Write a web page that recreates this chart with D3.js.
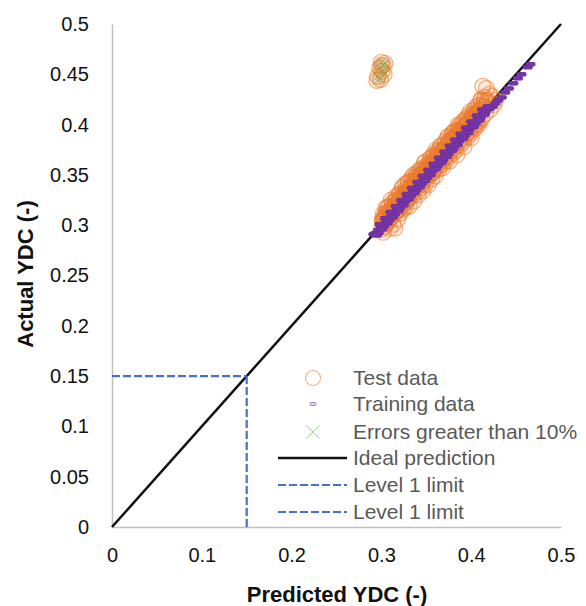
<html>
<head>
  <script src="https://d3js.org/d3.v7.min.js"></script>
  <title>YDC prediction</title>
</head>
<body style="margin:0;background:#fff">
  <div id="chart"></div>
  <script>
    // values
    var testPred = [0.300,0.301,0.302,0.303,0.304,0.305,0.306,0.307,0.308,0.309,0.310,0.311,0.312,0.313,0.313,0.314,0.315,0.316,0.317,0.318,
      0.318,0.319,0.320,0.321,0.322,0.323,0.323,0.324,0.325,0.326,0.327,0.327,0.328,0.329,0.330,0.331,0.331,0.332,0.333,0.334,
      0.335,0.336,0.336,0.337,0.338,0.339,0.340,0.340,0.341,0.342,0.343,0.344,0.344,0.345,0.346,0.347,0.348,0.348,0.349,0.350,
      0.351,0.352,0.352,0.353,0.354,0.355,0.356,0.356,0.357,0.358,0.359,0.360,0.360,0.361,0.362,0.363,0.364,0.364,0.365,0.366,
      0.367,0.368,0.368,0.369,0.370,0.371,0.372,0.372,0.373,0.374,0.375,0.376,0.376,0.377,0.378,0.379,0.380,0.380,0.381,0.382,
      0.383,0.384,0.384,0.385,0.386,0.387,0.388,0.388,0.389,0.390,0.391,0.392,0.392,0.393,0.394,0.395,0.396,0.396,0.397,0.398,
      0.399,0.400,0.400,0.401,0.402,0.403,0.404,0.405,0.406,0.407,0.408,0.409,0.410,0.411,0.412,0.413,0.414,0.415,0.416,0.417,
      0.418,0.420,0.421,0.423,0.425,0.427,
      0.302,0.305,0.308,0.311,0.314,0.317,0.320,0.323,0.326,0.329,0.332,0.335,0.338,0.341,0.344,0.347,0.350,0.353,0.356,0.359,
      0.362,0.365,0.368,0.371,0.374,0.377,0.380,0.383,0.386,0.389,0.392,0.395,0.398,0.401,0.404,0.407,0.410,
      0.303,0.309,0.315,0.321,0.327,0.333,0.339,0.345,0.351,0.357,0.363,0.369,0.375,0.381,0.387,0.393,0.399,0.405,
      0.301,0.302,0.303,0.305,0.306,0.307,0.308,0.310,0.311,0.312,0.313,0.315,0.316,0.317,0.318,0.320,0.321,0.322,0.324,0.325,
      0.326,0.327,0.329,0.330,0.331,0.332,0.334,0.335,0.336,0.337,0.339,0.340,0.341,0.342,0.344,0.345,0.346,0.347,0.349,0.350,
      0.351,0.352,0.354,0.355,0.356,0.357,0.359,0.360,0.361,0.362,0.364,0.365,0.366,0.367,0.369,0.370,0.371,0.372,0.374,0.375,
      0.376,0.377,0.379,0.380,0.381,0.382,0.384,0.385,0.386,0.387,0.389,0.390,0.391,0.392,0.394,0.395,0.396,0.397,0.399,0.400,
      0.401,0.402,0.404,0.405,0.406,0.407,0.409,0.410,0.411,0.412,0.414,0.415,0.416,0.418,
      0.300,0.302,0.304,0.298,0.301,0.296,0.299,0.303,0.295,0.300];
    var testActual = [0.296,0.303,0.293,0.308,0.299,0.312,0.302,0.318,0.305,0.297,0.313,0.308,0.322,0.301,0.316,0.311,0.297,0.325,0.314,0.306,
      0.321,0.317,0.331,0.312,0.326,0.319,0.337,0.316,0.330,0.322,0.341,0.318,0.333,0.325,0.343,0.327,0.319,0.337,0.331,0.347,
      0.329,0.340,0.324,0.345,0.336,0.351,0.333,0.344,0.330,0.349,0.340,0.356,0.337,0.348,0.334,0.353,0.344,0.362,0.341,0.355,
      0.348,0.360,0.340,0.357,0.350,0.366,0.346,0.361,0.352,0.370,0.355,0.364,0.349,0.368,0.358,0.374,0.356,0.369,0.361,0.379,
      0.360,0.373,0.357,0.376,0.366,0.383,0.364,0.378,0.369,0.387,0.368,0.381,0.364,0.384,0.374,0.391,0.372,0.386,0.377,0.394,
      0.375,0.389,0.370,0.392,0.382,0.399,0.380,0.394,0.385,0.402,0.383,0.397,0.378,0.399,0.390,0.407,0.388,0.401,0.393,0.410,
      0.391,0.405,0.387,0.408,0.397,0.414,0.396,0.411,0.401,0.419,0.400,0.414,0.404,0.424,0.407,0.438,0.418,0.427,0.411,0.436,
      0.422,0.430,0.415,0.428,0.420,0.424,
      0.306,0.308,0.313,0.315,0.319,0.320,0.325,0.327,0.332,0.333,0.338,0.339,0.344,0.345,0.350,0.351,0.356,0.358,0.362,0.363,
      0.368,0.370,0.374,0.375,0.380,0.381,0.385,0.388,0.392,0.393,0.398,0.399,0.403,0.406,0.409,0.411,0.415,
      0.301,0.307,0.313,0.320,0.325,0.332,0.337,0.344,0.350,0.355,0.362,0.367,0.374,0.380,0.385,0.392,0.397,0.404,
      0.305,0.311,0.304,0.317,0.312,0.303,0.318,0.313,0.325,0.319,0.317,0.324,0.317,0.329,0.324,0.316,0.331,0.325,0.338,0.332,
      0.330,0.336,0.330,0.342,0.337,0.328,0.344,0.338,0.350,0.344,0.343,0.349,0.342,0.354,0.350,0.341,0.356,0.350,0.363,0.357,
      0.355,0.361,0.355,0.367,0.362,0.353,0.369,0.363,0.375,0.369,0.368,0.374,0.367,0.379,0.375,0.366,0.381,0.375,0.388,0.382,
      0.380,0.386,0.380,0.392,0.387,0.378,0.394,0.388,0.400,0.394,0.393,0.399,0.392,0.404,0.400,0.391,0.406,0.400,0.413,0.407,
      0.405,0.411,0.405,0.417,0.412,0.403,0.419,0.413,0.425,0.419,0.418,0.424,0.417,0.424,
      0.462,0.459,0.461,0.456,0.453,0.448,0.445,0.450,0.444,0.458];

    var trainPred = [0.291,0.293,0.294,0.296,0.297,0.299,0.300,0.302,0.303,0.305,0.306,0.308,0.309,0.311,0.312,0.314,0.315,0.317,0.318,0.320,
      0.321,0.323,0.324,0.326,0.327,0.329,0.330,0.332,0.333,0.335,0.336,0.338,0.339,0.341,0.342,0.344,0.345,0.347,0.348,0.350,
      0.351,0.353,0.354,0.356,0.357,0.359,0.360,0.362,0.363,0.365,0.366,0.368,0.369,0.371,0.372,0.374,0.375,0.377,0.378,0.380,
      0.381,0.383,0.384,0.386,0.387,0.389,0.390,0.392,0.393,0.395,0.396,0.398,0.399,0.401,0.402,0.404,0.405,0.407,0.408,0.410,
      0.411,0.413,0.415,0.417,0.419,0.421,0.424,0.427,0.430,0.434,0.438,0.442,0.447,0.452,0.456,0.463,0.466,
      0.295,0.298,0.301,0.304,0.307,0.310,0.313,0.316,0.319,0.322,0.325,0.328,0.331,0.334,0.337,0.340,0.343,0.346,0.349,0.352,
      0.355,0.358,0.361,0.364,0.367,0.370,0.373,0.376,0.379,0.382,0.385,0.388,0.391,0.394,0.397,0.400,0.403,0.406,0.409,0.412,
      0.415,0.418,0.421];
    var trainActual = [0.291,0.292,0.290,0.295,0.292,0.298,0.296,0.300,0.299,0.303,0.302,0.307,0.305,0.309,0.308,0.313,0.311,0.315,0.315,0.318,
      0.317,0.322,0.320,0.324,0.324,0.328,0.326,0.330,0.329,0.333,0.333,0.337,0.335,0.339,0.338,0.343,0.341,0.345,0.344,0.349,
      0.347,0.351,0.350,0.354,0.354,0.358,0.356,0.360,0.359,0.364,0.362,0.366,0.365,0.369,0.369,0.373,0.371,0.375,0.374,0.379,
      0.377,0.381,0.380,0.384,0.384,0.388,0.386,0.390,0.389,0.394,0.392,0.396,0.396,0.399,0.398,0.403,0.401,0.405,0.405,0.408,
      0.407,0.411,0.411,0.414,0.416,0.418,0.418,0.421,0.424,0.427,0.432,0.436,0.441,0.446,0.450,0.457,0.460,
      0.290,0.301,0.296,0.307,0.302,0.313,0.308,0.319,0.314,0.325,0.320,0.331,0.326,0.337,0.332,0.343,0.338,0.349,0.344,0.355,
      0.350,0.361,0.356,0.367,0.362,0.373,0.368,0.379,0.374,0.385,0.380,0.391,0.386,0.397,0.392,0.403,0.398,0.409,0.404,0.415,
      0.410,0.418,0.416];

    var errPred = [0.300,0.302,0.304,0.298,0.301,0.296,0.299,0.303,0.295,0.300];
    var errActual = [0.462,0.459,0.461,0.456,0.453,0.448,0.445,0.450,0.444,0.458];

    var idealLine = [[0, 0], [0.5, 0.5]];
    var levelLimit = 0.15;

    var xTicks = [0, 0.1, 0.2, 0.3, 0.4, 0.5];
    var xTickLabels = ["0", "0.1", "0.2", "0.3", "0.4", "0.5"];
    var yTicks = [0, 0.05, 0.1, 0.15, 0.2, 0.25, 0.3, 0.35, 0.4, 0.45, 0.5];
    var yTickLabels = ["0", "0.05", "0.1", "0.15", "0.2", "0.25", "0.3", "0.35", "0.4", "0.45", "0.5"];

    var legendNames = ["Test data", "Training data", "Errors greater than 10%", "Ideal prediction", "Level 1 limit", "Level 1 limit"];

    var width = 586, height = 606;
    var fontFam = "'Liberation Sans', Arial, sans-serif";

    var svg = d3.select("#chart").append("svg")
      .attr("width", width)
      .attr("height", height)
      .style("display", "block");

    var x = d3.scaleLinear().domain([0, 0.5]).range([112, 561]);
    var y = d3.scaleLinear().domain([0, 0.5]).range([527, 24]);

    // axes
    svg.append("g")
      .attr("transform", "translate(0," + y(0) + ")")
      .call(d3.axisBottom(x).tickValues(xTicks).tickSize(0).tickPadding(21)
        .tickFormat(function(d, i){ return xTickLabels[i]; }));
    svg.append("g")
      .attr("transform", "translate(" + x(0) + ",0)")
      .call(d3.axisLeft(y).tickValues(yTicks).tickSize(0).tickPadding(23)
        .tickFormat(function(d, i){ return yTickLabels[i]; }));
    svg.selectAll(".domain")
      .attr("stroke", "#bfbfbf")
      .attr("stroke-width", 1.5);
    svg.selectAll(".tick text")
      .style("font-family", fontFam)
      .style("font-size", "20px")
      .attr("fill", "#111");

    // ideal prediction line
    var line = d3.line()
      .x(function(d){ return x(d[0]); })
      .y(function(d){ return y(d[1]); });
    svg.append("path")
      .datum(idealLine)
      .attr("d", line)
      .attr("fill", "none")
      .attr("stroke", "#111")
      .attr("stroke-width", 2.5);

    // level 1 limit
    svg.append("path")
      .datum([[0, levelLimit], [levelLimit, levelLimit]])
      .attr("d", line)
      .attr("fill", "none")
      .attr("stroke", "#4472c4")
      .attr("stroke-width", 2.2)
      .attr("stroke-dasharray", "8,3");
    svg.append("path")
      .datum([[levelLimit, levelLimit], [levelLimit, 0]])
      .attr("d", line)
      .attr("fill", "none")
      .attr("stroke", "#4472c4")
      .attr("stroke-width", 2.2)
      .attr("stroke-dasharray", "8,3");

    // test data (faint fill so the dense core builds up like the original)
    svg.append("g").selectAll("circle")
      .data(testPred)
      .enter()
      .append("circle")
      .attr("cx", function(d){ return x(d); })
      .attr("cy", function(d, i){ return y(testActual[i]); })
      .attr("r", 8)
      .attr("fill", "#ed7d31")
      .attr("fill-opacity", 0.09)
      .attr("stroke", "#ed7d31")
      .attr("stroke-opacity", 0.6)
      .attr("stroke-width", 1.2);

    // training data
    svg.append("g").selectAll("rect")
      .data(trainPred)
      .enter()
      .append("rect")
      .attr("x", function(d){ return x(d) - 4.5; })
      .attr("y", function(d, i){ return y(trainActual[i]) - 1.75; })
      .attr("width", 9)
      .attr("height", 3.5)
      .attr("rx", 1)
      .attr("fill", "#7536a6")
      .attr("stroke", "#7030a0")
      .attr("stroke-width", 1);

    // errors greater than 10%
    var cross = d3.symbol().type(d3.symbolX).size(60);
    svg.append("g").selectAll("path")
      .data(errPred)
      .enter()
      .append("path")
      .attr("d", cross)
      .attr("transform", function(d, i){ return "translate(" + x(d) + "," + y(errActual[i]) + ")"; })
      .attr("fill", "none")
      .attr("stroke", "#70ad47")
      .attr("stroke-opacity", 0.7)
      .attr("stroke-width", 1);

    // legend
    var legendY = [378, 404, 432, 458, 485, 512];
    var legend = svg.append("g");
    legend.append("circle")
      .attr("cx", 313).attr("cy", legendY[0]).attr("r", 7.5)
      .attr("fill", "none").attr("stroke", "#f4b183").attr("stroke-width", 1.1);
    legend.append("rect")
      .attr("x", 310).attr("y", legendY[1] - 1.5).attr("width", 6).attr("height", 3).attr("rx", 1)
      .attr("fill", "#ddd0ec").attr("stroke", "#a98bcc").attr("stroke-width", 1);
    legend.append("path")
      .attr("d", d3.symbol().type(d3.symbolX).size(110))
      .attr("transform", "translate(313," + legendY[2] + ")")
      .attr("fill", "none").attr("stroke", "#a9d18e").attr("stroke-width", 1);
    legend.append("line")
      .attr("x1", 278).attr("x2", 347).attr("y1", legendY[3]).attr("y2", legendY[3])
      .attr("stroke", "#111").attr("stroke-width", 2.5);
    [4, 5].forEach(function(k){
      legend.append("line")
        .attr("x1", 278).attr("x2", 347).attr("y1", legendY[k]).attr("y2", legendY[k])
        .attr("stroke", "#4472c4").attr("stroke-width", 2.2).attr("stroke-dasharray", "8,3");
    });
    legend.selectAll("text")
      .data(legendNames)
      .enter()
      .append("text")
      .attr("x", 353)
      .attr("y", function(d, i){ return legendY[i]; })
      .attr("dy", "0.35em")
      .style("font-family", fontFam)
      .style("font-size", "21px")
      .attr("fill", "#595959")
      .text(function(d){ return d; });

    // axis titles
    svg.append("text")
      .attr("x", 337)
      .attr("y", 602)
      .attr("text-anchor", "middle")
      .style("font-family", fontFam)
      .style("font-size", "22px")
      .style("font-weight", "bold")
      .attr("fill", "#111")
      .text("Predicted YDC (-)");
    svg.append("text")
      .attr("transform", "translate(33,274) rotate(-90)")
      .attr("text-anchor", "middle")
      .style("font-family", fontFam)
      .style("font-size", "22px")
      .style("font-weight", "bold")
      .attr("fill", "#111")
      .text("Actual YDC (-)");
  </script>
</body>
</html>
